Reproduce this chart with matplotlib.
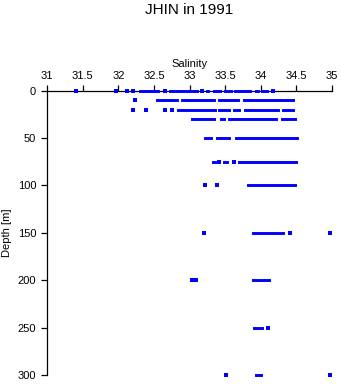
import matplotlib
matplotlib.use("Agg")
import matplotlib.pyplot as plt

plt.rcParams["font.family"] = ["Liberation Sans", "DejaVu Sans"]

# Sampling depths (m)
depths = [0, 10, 20, 30, 50, 75, 100, 150, 200, 250, 300]

# Salinity readings per depth: dense runs given as (first, last) reading,
# plus isolated single readings
runs = {
    0: [(32.30, 32.55), (32.73, 33.11), (33.35, 33.43), (33.50, 33.58),
        (33.64, 33.85), (33.93, 33.96), (34.02, 34.09), (33.24, 33.26)],
    10: [(32.54, 32.82), (32.89, 33.34), (33.42, 33.68), (33.76, 34.46)],
    20: [(32.84, 33.36), (33.42, 33.55), (33.62, 33.70), (33.78, 34.25),
         (34.31, 34.46)],
    30: [(33.03, 33.34), (33.44, 33.48), (33.55, 34.22), (34.30, 34.49)],
    50: [(33.22, 33.30), (33.39, 33.56), (33.65, 34.51)],
    75: [(33.33, 33.36), (33.49, 33.53), (33.70, 34.50)],
    100: [(33.82, 34.48)],
    150: [(33.89, 34.31)],
    200: [(33.89, 34.12)],
    250: [(33.91, 34.02)],
    300: [(33.93, 34.01)],
}
singles = {
    0: [31.40, 31.97, 32.12, 32.21, 32.65, 33.17, 34.18],
    10: [32.24],
    20: [32.21, 32.39, 32.65, 32.76],
    30: [],
    50: [],
    75: [33.41, 33.62],
    100: [33.22, 33.38],
    150: [33.20, 34.41, 34.97],
    200: [33.04, 33.09],
    250: [34.10],
    300: [33.52, 34.97],
}

x_ticks = [31, 31.5, 32, 32.5, 33, 33.5, 34, 34.5, 35]
x_labels = ["31", "31.5", "32", "32.5", "33", "33.5", "34", "34.5", "35"]
y_ticks = [0, 50, 100, 150, 200, 250, 300]

fig = plt.figure(figsize=(3.41, 3.84), dpi=100)
ax = fig.add_axes([47.3 / 341, 9 / 384, (331.7 - 47.3) / 341, (375 - 90.7) / 384])

mark_pt = 2.1
for d in depths:
    for lo, hi in runs[d]:
        ax.hlines(d, lo, hi, colors="#0000ff", linewidth=mark_pt,
                  capstyle="projecting", clip_on=False, zorder=3)
    if singles[d]:
        ax.plot(singles[d], [d] * len(singles[d]), ls="none", marker="s",
                ms=mark_pt * 1.1, mew=0, color="#0000ff",
                clip_on=False, zorder=3)

ax.set_xlim(31, 35)
ax.set_ylim(300, 0)
ax.xaxis.set_ticks_position("top")
ax.xaxis.set_label_position("top")
ax.set_xticks(x_ticks)
ax.set_xticklabels(x_labels)
ax.set_yticks(y_ticks)
for side in ("right", "bottom"):
    ax.spines[side].set_visible(False)
for side in ("left", "top"):
    ax.spines[side].set_linewidth(0.9)
ax.tick_params(axis="both", direction="out", length=4, width=0.9,
               labelsize=8, pad=3)
ax.tick_params(axis="y", pad=4)
ax.set_xlabel("Salinity", fontsize=8, labelpad=3)
ax.set_ylabel("Depth [m]", fontsize=8, labelpad=4)
ax.set_title("JHIN in 1991", fontsize=11, pad=55)

fig.savefig("out.png", dpi=100)
